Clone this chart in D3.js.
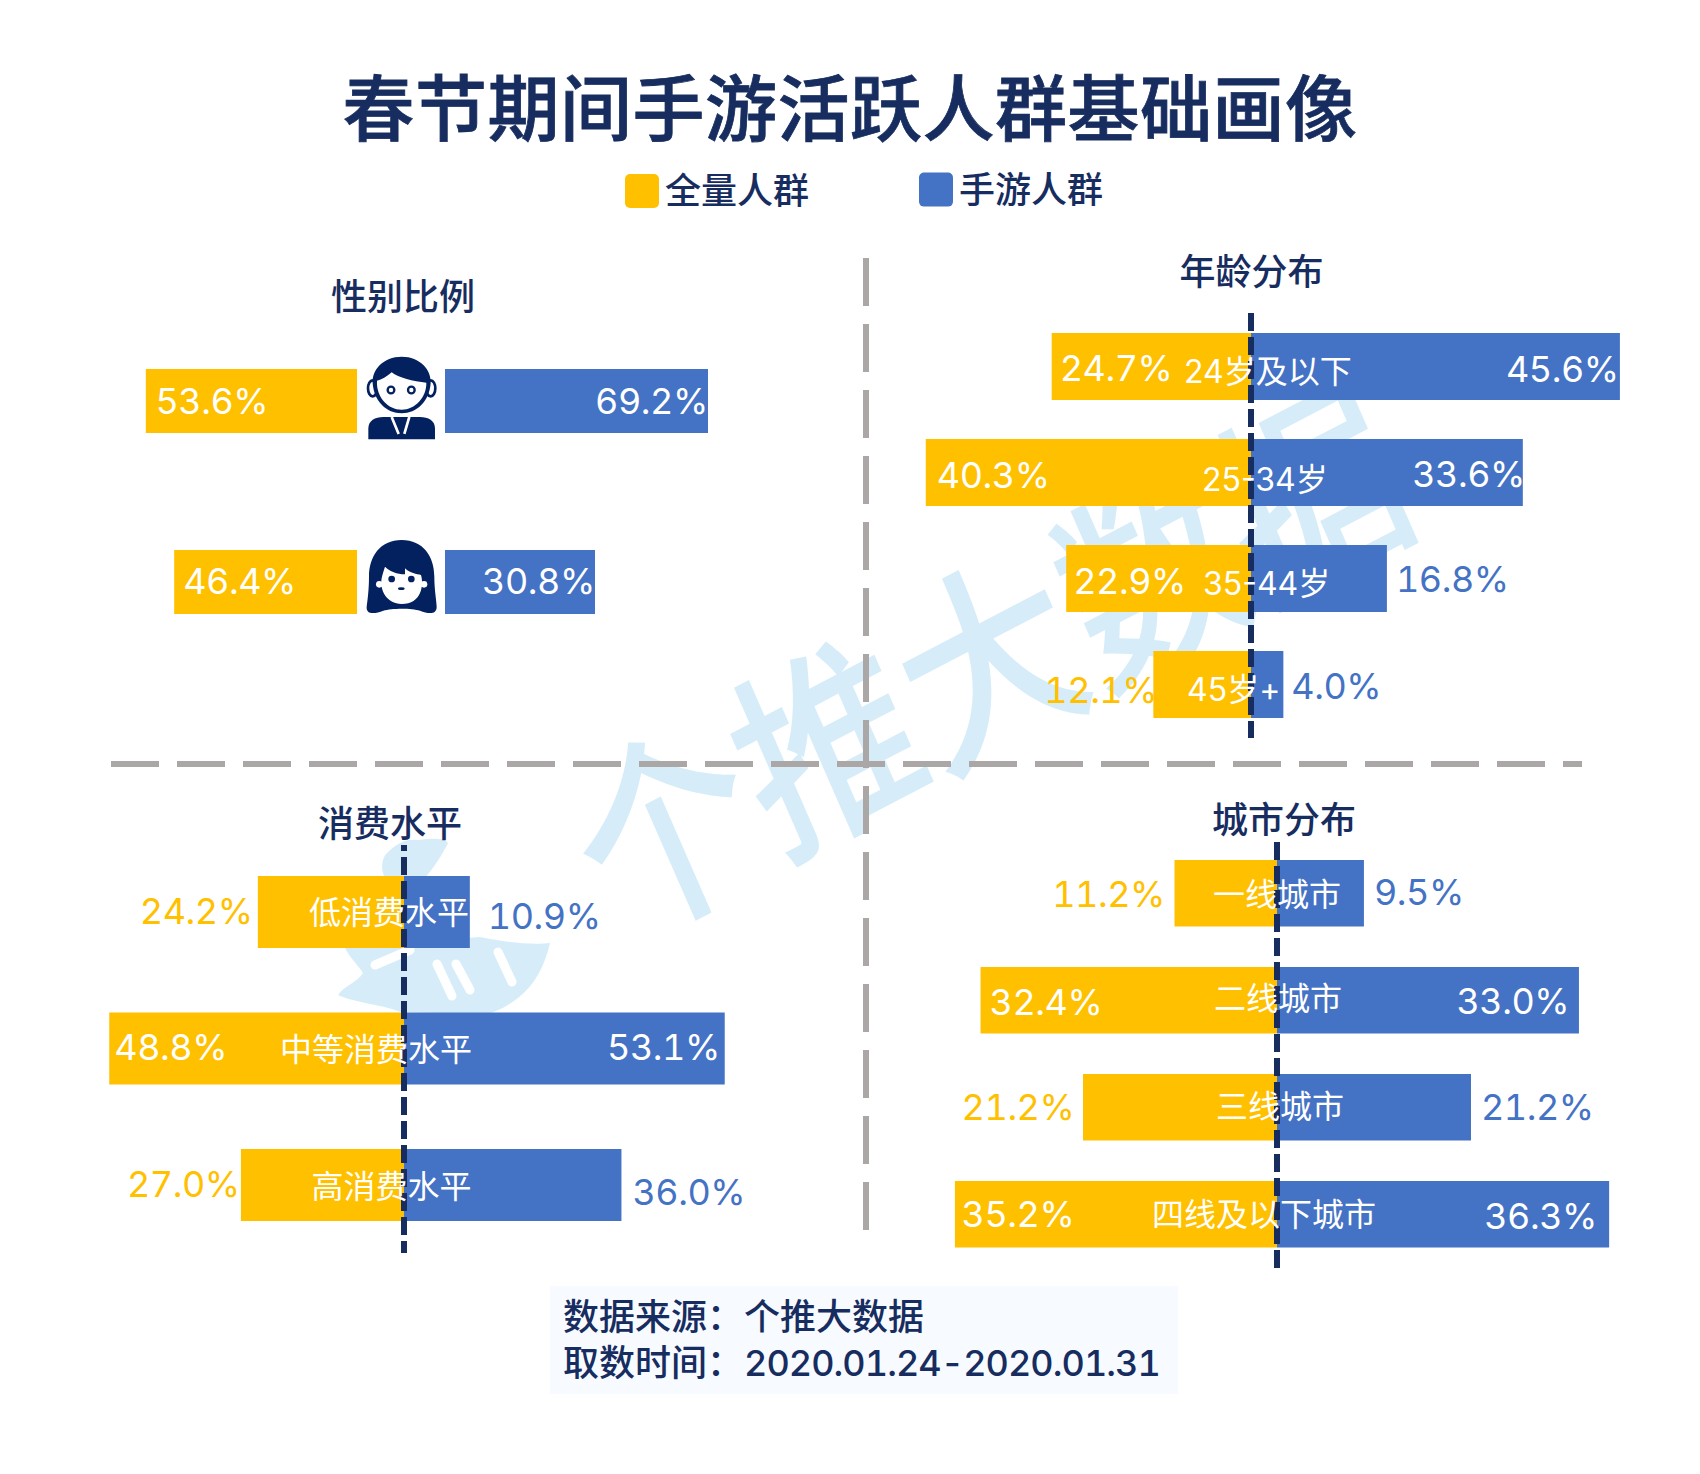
<!DOCTYPE html>
<html lang="zh"><head><meta charset="utf-8">
<script src="https://cdn.jsdelivr.net/npm/d3@7/dist/d3.min.js"></script>
<style>html,body{margin:0;padding:0;background:#fff}svg{display:block}text{font-family:Inter,"Noto Sans CJK SC","Noto Sans",sans-serif}.val{font-variant-numeric:tabular-nums;letter-spacing:-0.45px}.date{font-variant-numeric:tabular-nums;letter-spacing:-0.92px}</style>
</head><body><div id="chart"></div>
<script>
// ---- data ----
const titleText = "春节期间手游活跃人群基础画像";
const seriesNames = ["全量人群", "手游人群"];
const sourceLines = [["数据来源：", "个推大数据"], ["取数时间：", "2020.01.24-2020.01.31"]];
const watermarkText = "个推大数据";

const genderTitle = "性别比例";
const genderCats = ["男", "女"];
const genderAll = [53.6, 46.4];
const genderGame = [69.2, 30.8];

const ageTitle = "年龄分布";
const ageCats = ["24岁及以下", "25-34岁", "35-44岁", "45岁+"];
const ageAll = [24.7, 40.3, 22.9, 12.1];
const ageGame = [45.6, 33.6, 16.8, 4.0];

const spendTitle = "消费水平";
const spendCats = ["低消费水平", "中等消费水平", "高消费水平"];
const spendAll = [24.2, 48.8, 27.0];
const spendGame = [10.9, 53.1, 36.0];

const cityTitle = "城市分布";
const cityCats = ["一线城市", "二线城市", "三线城市", "四线及以下城市"];
const cityAll = [11.2, 32.4, 21.2, 35.2];
const cityGame = [9.5, 33.0, 21.2, 36.3];

// ---- style ----
const YEL = "#FFC000", BLU = "#4472C4", NAVY = "#172d5f", ICON = "#03215f", GREY = "#aba7a7", WM = "#d6edf9";
const W = 1700, H = 1474;
const svg = d3.select("#chart").append("svg").attr("width", W).attr("height", H).attr("viewBox", [0,0,W,H]);

// watermark (behind everything)
const wm = svg.append("g");
wm.append("text").attr("transform","translate(990,665) rotate(-27.6) skewX(-4) scale(1,1.12)").attr("text-anchor","middle").attr("dy","0.36em")
  .attr("font-size",182).attr("font-weight",500).attr("fill",WM).text(watermarkText);
wm.append("path").attr("fill",WM).attr("d","M387 853C395 845 405 838 418 840C432 838 445 838 448 843C442 855 435 866 425 878L385 878C380 868 382 858 387 853Z");
wm.append("path").attr("fill",WM).attr("d","M345 948L480 937C505 942 530 945 550 943C545 965 535 985 518 998C505 1008 495 1012 485 1014L400 1012C385 1005 355 1003 338 995C345 985 358 982 363 973C358 965 350 958 345 948Z");
wm.append("g").attr("stroke","#fff").attr("stroke-width",9).attr("stroke-linecap","round").selectAll("line")
  .data([[437,964,452,996],[456,964,470,990],[498,952,512,982],[375,965,410,950]]).join("line")
  .attr("x1",d=>d[0]).attr("y1",d=>d[1]).attr("x2",d=>d[2]).attr("y2",d=>d[3]);

// quadrant dividers
svg.append("line").attr("x1",866).attr("x2",866).attr("y1",258).attr("y2",1230)
  .attr("stroke",GREY).attr("stroke-width",6).attr("stroke-dasharray","48 18");
svg.append("line").attr("x1",111).attr("x2",1582).attr("y1",764).attr("y2",764)
  .attr("stroke",GREY).attr("stroke-width",6).attr("stroke-dasharray","48 18");

const VAL_SIZE = 36, CAT_SIZE = 32;

function panel(cfg) {
  const g = svg.append("g");
  const band = d3.scaleBand().domain(cfg.cats).range(cfg.yRange).paddingInner(cfg.pad);
  const lx = v => cfg.leftAxis - cfg.xL(v), rx = v => cfg.rightAxis + cfg.xR(v);
  const rows = cfg.cats.map((c,i)=>({c,i,l:cfg.all[i],r:cfg.game[i]}));
  const cy = d => band(d.c) + band.bandwidth()/2;
  g.selectAll("rect.l").data(rows).join("rect").attr("class","l")
    .attr("x",d=>lx(d.l)).attr("width",d=>cfg.xL(d.l)).attr("y",d=>band(d.c)).attr("height",band.bandwidth()).attr("fill",YEL);
  g.selectAll("rect.r").data(rows).join("rect").attr("class","r")
    .attr("x",cfg.rightAxis).attr("width",d=>cfg.xR(d.r)).attr("y",d=>band(d.c)).attr("height",band.bandwidth()).attr("fill",BLU);
  if (cfg.lineY) g.append("line").attr("x1",cfg.leftAxis).attr("x2",cfg.leftAxis).attr("y1",cfg.lineY[0]).attr("y2",cfg.lineY[1])
    .attr("stroke",NAVY).attr("stroke-width",6).attr("stroke-dasharray","18 6").attr("stroke-dashoffset",cfg.lineOffset||0);
  const val = (sel,cls,xf,txt,fill,ydx) => sel.selectAll("text."+cls).data(rows).join("text").attr("class",cls+" val")
    .attr("x",xf).attr("y",d=>cy(d)+ydx[d.i]).attr("dy","0.36em").attr("font-size",VAL_SIZE).attr("fill",fill).text(txt);
  val(g,"vl",d=>lx(d.l)+cfg.ldx[d.i],d=>d.l.toFixed(1)+"%",d=>cfg.ldx[d.i]>0?"#fff":YEL,cfg.ldy);
  val(g,"vr",d=>rx(d.r)+cfg.rdx[d.i],d=>d.r.toFixed(1)+"%",d=>cfg.rdx[d.i]<0?"#fff":BLU,cfg.rdy);
  if (cfg.cdx) g.selectAll("text.c").data(rows).join("text").attr("class","c")
    .attr("x",d=>cfg.leftAxis+cfg.cdx[d.i]).attr("y",d=>cy(d)+cfg.cdy[d.i]).attr("dy","0.36em")
    .attr("font-size",CAT_SIZE).attr("fill","#fff").text(d=>d.c);
  svg.append("text").attr("x",cfg.title[1]).attr("y",cfg.title[2]).attr("dy","0.36em").attr("text-anchor","middle")
    .attr("font-size",36).attr("font-weight",500).attr("fill",NAVY).text(cfg.title[0]);
  return band;
}

// gender: reference bars are drawn to separate lengths per side
panel({cats:genderCats,all:genderAll,game:genderGame,yRange:[369,614],pad:117/181,
  leftAxis:357,rightAxis:445,
  xL:d3.scaleLinear().domain([0,100]).range([0,394]),
  xR:d3.scaleLinear().domain([0,30.8,69.2]).range([0,150,263]),
  ldx:[9.6,9],ldy:[0,-1],rdx:[-113,-113],rdy:[0,-1],title:[genderTitle,403,297]});

panel({cats:ageCats,all:ageAll,game:ageGame,yRange:[333,718],pad:39/106,
  leftAxis:1251,rightAxis:1251,
  xL:d3.scaleLinear().domain([0,100]).range([0,807]),xR:d3.scaleLinear().domain([0,100]).range([0,809]),
  lineY:[313,738],
  ldx:[8,11,7,-109],ldy:[2,3,2.5,6],rdx:[-114,-110.6,9,8],rdy:[2.6,2,1,2],
  cdx:[-67,-49,-48,-64],cdy:[4.6,6.6,5,4.5],title:[ageTitle,1251.5,272]});

panel({cats:spendCats,all:spendAll,game:spendGame,yRange:[876,1221],pad:64.5/136.5,
  leftAxis:404,rightAxis:404,
  xL:d3.scaleLinear().domain([0,100]).range([0,604]),xR:d3.scaleLinear().domain([0,100]).range([0,604]),
  lineY:[845,1253],lineOffset:12,
  ldx:[-118,5,-114],ldy:[-1,-1,-1],rdx:[18,-117.7,11],rdy:[3.6,-1,7],
  cdx:[-95,-124,-92.4],cdy:[0,.5,1],title:[spendTitle,390,824]});

panel({cats:cityCats,all:cityAll,game:cityGame,yRange:[860,1247.5],pad:40.5/107,
  leftAxis:1277,rightAxis:1277,
  xL:d3.scaleLinear().domain([0,100]).range([0,915]),xR:d3.scaleLinear().domain([0,100]).range([0,915]),
  lineY:[842,1268],
  ldx:[-122.3,9,-121.4,6.6],ldy:[1,1.5,0,0],rdx:[10,-122.5,10,-125],rdy:[-1.5,.5,0,2],
  cdx:[-64,-63,-61,-125],cdy:[1,-2,-.5,.5],title:[cityTitle,1284,820]});

// title
svg.append("text").attr("x",850).attr("y",109).attr("dy","0.36em").attr("text-anchor","middle")
  .attr("font-size",72).attr("font-weight",500).attr("letter-spacing",0.5).attr("stroke",NAVY).attr("stroke-width",0.8).attr("fill",NAVY).text(titleText);

// legend
const legendX=[625,919], legendY=[174,172.6], legendC=[YEL,BLU];
seriesNames.forEach((s,i)=>{
  svg.append("rect").attr("x",legendX[i]).attr("y",legendY[i]).attr("width",34).attr("height",34).attr("rx",5).attr("fill",legendC[i]);
  svg.append("text").attr("x",legendX[i]+40).attr("y",legendY[i]+17).attr("dy","0.36em").attr("font-size",36).attr("font-weight",500).attr("fill",NAVY).text(s);
});

// icons, drawn at 1/3 scale from an icon grid
const male = svg.append("g").attr("transform","translate(340,340) scale(0.3333)");
male.selectAll("ellipse").data([98,272]).join("ellipse").attr("cx",d=>d).attr("cy",145).attr("rx",14).attr("ry",24).attr("fill","#fff").attr("stroke",ICON).attr("stroke-width",8);
male.append("path").attr("fill",ICON).attr("d","M185 50C240 50 275 90 272 130C268 185 230 220 185 220C140 220 102 185 98 130C95 90 130 50 185 50Z");
male.append("path").attr("fill","#fff").attr("d","M111 122C125 120 140 110 155 97C175 113 220 124 259 128C260 172 225 209 185 209C145 209 108 172 111 122Z");
male.selectAll("circle.e").data([153,214]).join("circle").attr("class","e").attr("cx",d=>d).attr("cy",150).attr("r",10).attr("fill","#fff").attr("stroke",ICON).attr("stroke-width",7);
male.append("path").attr("fill",ICON).attr("d","M85 298V265C85 242 105 231 130 231H240C265 231 285 242 285 265V298Z");
male.append("path").attr("stroke","#fff").attr("stroke-width",8).attr("fill","none").attr("d","M155 231L176 282M208 231L193 282");
const female = svg.append("g").attr("transform","translate(340,340) scale(0.3333)");
female.append("path").attr("fill",ICON).attr("d","M185 600C250 600 283 650 283 710C283 750 290 785 290 800C290 825 265 822 240 812C215 804 155 804 130 812C105 822 78 825 80 800C82 785 87 750 87 710C87 650 120 600 185 600Z");
female.selectAll("circle.ear").data([118,252]).join("circle").attr("class","ear").attr("cx",d=>d).attr("cy",733).attr("r",10).attr("fill","#fff");
female.append("path").attr("fill","#fff").attr("d","M125 715C128 700 132 690 135 680C150 695 170 702 195 703L195 685C210 700 230 702 243 705C252 735 245 792 185 792C140 792 118 750 125 715Z");
female.selectAll("circle.eye").data([155,214]).join("circle").attr("class","eye").attr("cx",d=>d).attr("cy",717).attr("r",10).attr("fill",ICON);
female.append("ellipse").attr("cx",184).attr("cy",746).attr("rx",10).attr("ry",4).attr("fill",ICON);

// source box
svg.append("rect").attr("x",550).attr("y",1286).attr("width",628).attr("height",108).attr("fill","#f7fbff");
sourceLines.forEach((l,i)=>{
  const y=[1317,1363][i];
  const t=svg.append("text").attr("y",y).attr("dy","0.36em").attr("font-size",36).attr("font-weight",500).attr("fill",NAVY);
  t.append("tspan").attr("x",563).text(l[0]);
  t.append("tspan").attr("x",744).attr("class",i===1?"date":null).text(l[1]);
});
</script></body></html>
